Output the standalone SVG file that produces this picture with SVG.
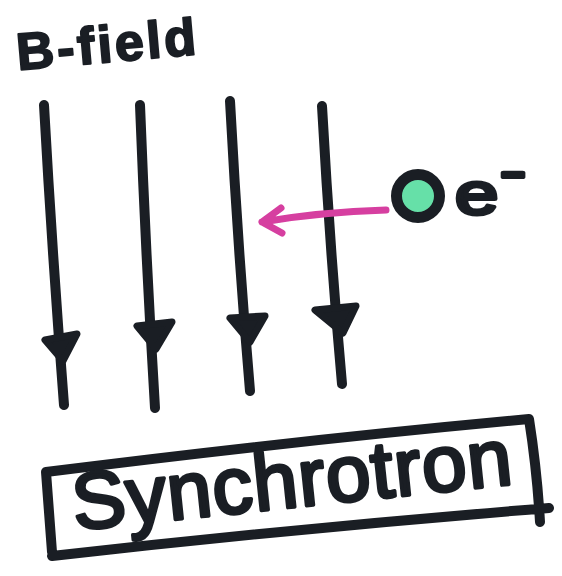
<svg xmlns="http://www.w3.org/2000/svg" width="562" height="576" viewBox="0 0 562 576">
<style>
.ink{fill:none;stroke:#1a1e24;stroke-width:10;stroke-linecap:round;stroke-linejoin:round}
.head{fill:#1a1e24;stroke:#1a1e24;stroke-width:7;stroke-linejoin:round}
.txt{font-family:"Liberation Sans","DejaVu Sans",sans-serif;fill:#1a1e24;stroke:#1a1e24;stroke-linejoin:round;stroke-linecap:round}
</style>
<rect width="562" height="576" fill="#ffffff"/>
<g id="bfield-label">
<text class="txt" x="18" y="70" font-size="52" font-weight="bold" stroke-width="2" letter-spacing="3" transform="rotate(-5 18 70)">B-field</text>
</g>
<g id="field-lines">
<path class="ink" d="M44,105 Q52,250 64,405"/>
<path class="head" d="M45,340 L77,334 L63,361 Z"/>
<path class="ink" d="M140,105 Q146,260 155,408"/>
<path class="head" d="M137,326 L172,322 L156,349 Z"/>
<path class="ink" d="M230,101 Q238,250 250,391"/>
<path class="head" d="M230,318 L265,316 L250,342 Z"/>
<path class="ink" d="M322,106 Q330,250 342,384"/>
<path class="head" d="M315,310 L356,306 L343,333 Z"/>
</g>
<g id="electron">
<circle cx="418" cy="196" r="21.5" fill="#66e0a8" stroke="#1a1e24" stroke-width="11"/>
<text class="txt" transform="translate(455,214) scale(1.3,1)" x="0" y="0" font-size="60" stroke-width="4">e</text>
<text class="txt" transform="translate(500,190) scale(1.4,1)" x="0" y="0" font-size="56" stroke-width="4">-</text>
</g>
<g id="connectors">
<path fill="none" stroke="#d63fa0" stroke-width="7" stroke-linecap="round" stroke-linejoin="round" d="M386,210 Q320,212 262,222 M281,208 L262,222 L282,233"/>
</g>
<g id="synchrotron-box">
<path class="ink" d="M52,552 Q49,510 46,472 Q300,440 529,419 Q537,470 540,522 M52,556 Q300,528 549,508"/>
<text class="txt" x="75" y="530" font-size="80" stroke-width="3.5" letter-spacing="1" transform="rotate(-6 75 530)">Synchrotron</text>
</g>
</svg>
